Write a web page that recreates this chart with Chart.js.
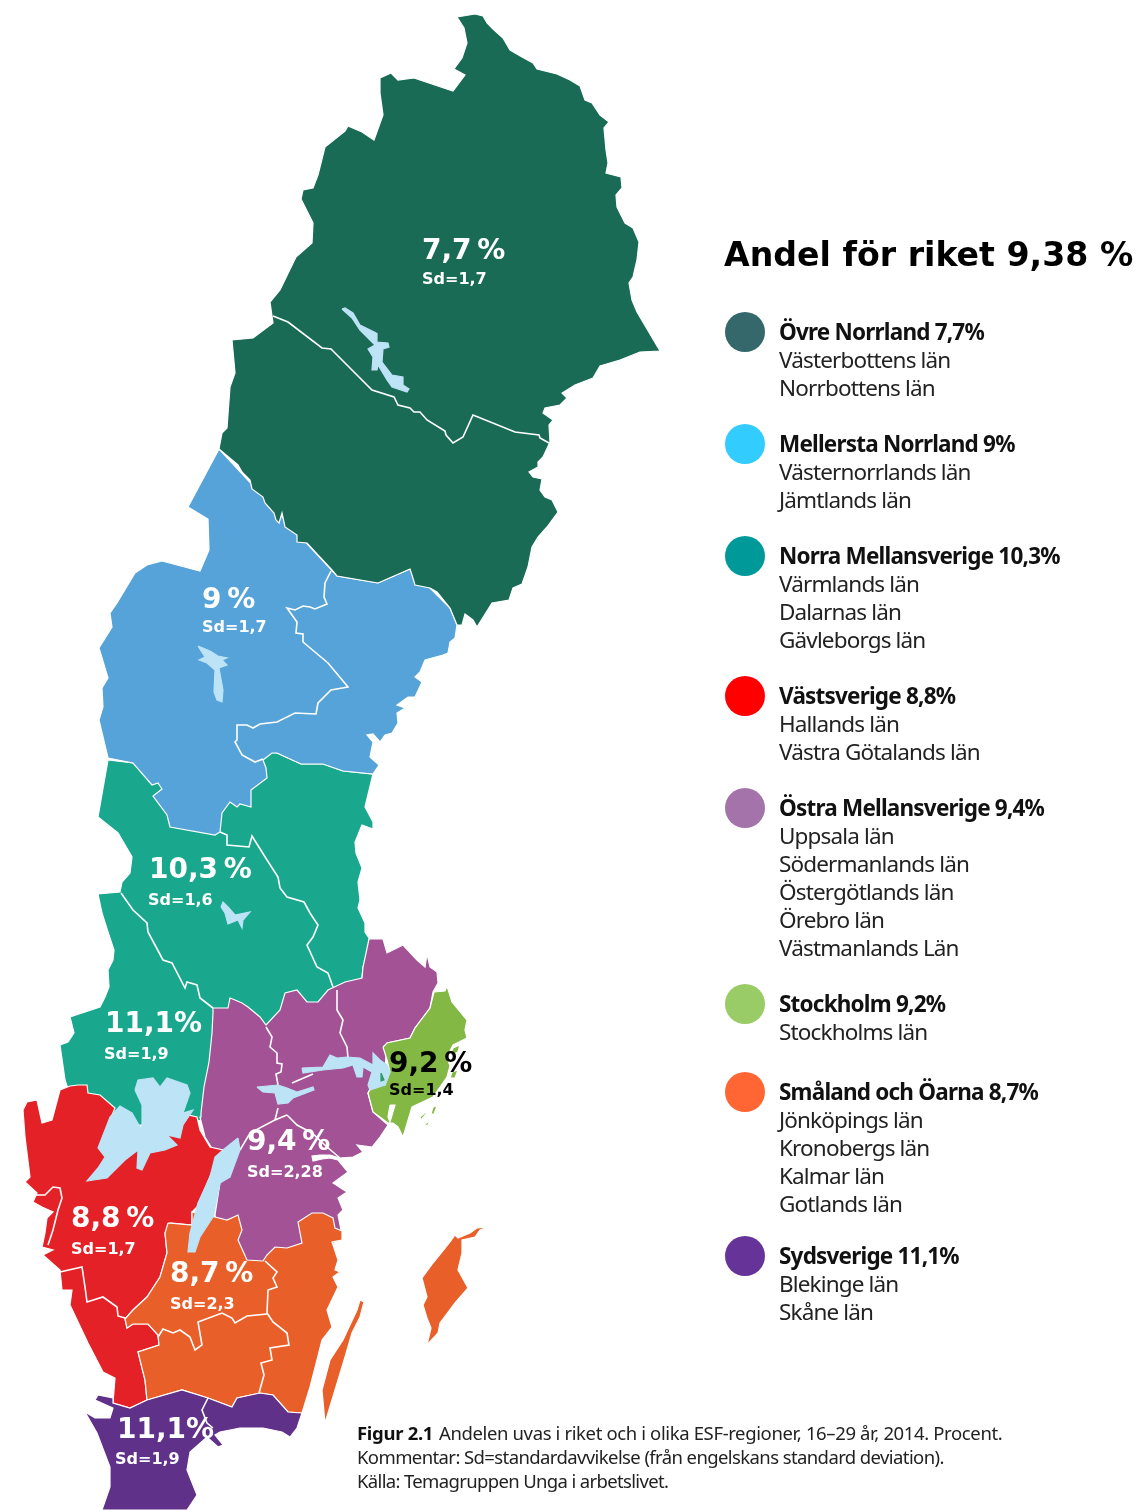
<!DOCTYPE html>
<html lang="sv">
<head>
<meta charset="utf-8">
<title>Andel för riket</title>
<script src="https://cdn.jsdelivr.net/npm/chart.js@4"></script>
<style>
html, body { margin: 0; padding: 0; background: #fff; }
canvas { display: block; }
</style>
</head>
<body>
<canvas id="karta" width="1136" height="1510"></canvas>
<script>
// ---- Siffror
const riketTitel = 'Andel för riket 9,38 %'
const regioner = ['Övre Norrland', 'Mellersta Norrland', 'Norra Mellansverige', 'Västsverige', 'Östra Mellansverige', 'Stockholm', 'Småland och Öarna', 'Sydsverige']
const andelar = ['7,7%', '9%', '10,3%', '8,8%', '9,4%', '9,2%', '8,7%', '11,1%']
const lanPerRegion = [
    ['Västerbottens län', 'Norrbottens län'],
    ['Västernorrlands län', 'Jämtlands län'],
    ['Värmlands län', 'Dalarnas län', 'Gävleborgs län'],
    ['Hallands län', 'Västra Götalands län'],
    ['Uppsala län', 'Södermanlands län', 'Östergötlands län', 'Örebro län', 'Västmanlands Län'],
    ['Stockholms län'],
    ['Jönköpings län', 'Kronobergs län', 'Kalmar län', 'Gotlands län'],
    ['Blekinge län', 'Skåne län']
]
const kartEtiketter = ['7,7 %', '9 %', '10,3 %', '11,1%', '9,2 %', '9,4 %', '8,8 %', '8,7 %', '11,1%']
const kartSd = ['Sd=1,7', 'Sd=1,7', 'Sd=1,6', 'Sd=1,9', 'Sd=1,4', 'Sd=2,28', 'Sd=1,7', 'Sd=2,3', 'Sd=1,9']
const etikettX = [422, 202, 149, 105, 389, 247, 71, 170, 117]
const etikettY = [249, 598, 868, 1022, 1062, 1140, 1217, 1272, 1428]
const sdX = [422, 202, 148, 104, 389, 247, 71, 170, 115]
const sdY = [278, 626, 899, 1053, 1089, 1171, 1248, 1303, 1458]
const figurRader = ['Andelen uvas i riket och i olika ESF-regioner, 16–29 år, 2014. Procent.', 'Kommentar: Sd=standardavvikelse (från engelskans standard deviation).', 'Källa: Temagruppen Unga i arbetslivet.']

// ---- Kartans konturer
const ovreNorrland = [457,17, 475,14, 483,16, 487,23, 493,29, 503,38, 510,50, 522,57, 533,63, 537,69, 557,74, 570,80, 580,86, 585,100, 592,103, 600,115, 609,122, 604,128, 606,150, 608,163, 606,173, 621,177, 622,188, 616,195, 617,207, 625,223, 633,228, 639,242, 637,260, 633,277, 629,283, 632,300, 637,312, 660,351, 640,352, 620,360, 600,366, 593,378, 575,385, 562,393, 567,398, 560,405, 545,408, 543,413, 553,420, 549,425, 550,442, 543,457, 538,462, 538,467, 529,472, 533,477, 542,479, 540,490, 545,497, 552,500, 558,512, 547,527, 538,537, 532,547, 528,567, 522,584, 513,588, 509,600, 492,603, 477,627, 473,620, 465,614, 462,625, 457,625, 450,608, 437,592, 430,588, 415,585, 412,575, 410,569, 378,583, 337,576, 332,570, 307,543, 297,542, 297,535, 285,527, 282,513, 279,523, 276,520, 274,513, 265,503, 263,497, 252,489, 250,480, 242,472, 238,465, 219,449, 222,433, 227,428, 230,387, 235,373, 232,340, 253,338, 273,323, 270,302, 280,290, 296,257, 312,243, 313,223, 301,199, 303,190, 313,188, 318,175, 325,147, 345,131, 348,126, 362,132, 374,140, 383,115, 380,93, 380,78, 391,73, 398,80, 414,78, 453,91, 465,75, 454,69, 462,58, 467,43, 464,28]
const mellerstaNorrland = [219,449, 188,507, 208,519, 209,550, 200,571, 162,561, 147,565, 135,573, 117,603, 110,613, 112,627, 99,648, 108,678, 102,688, 103,707, 99,720, 108,758, 133,763, 152,785, 158,783, 162,789, 153,796, 167,815, 170,827, 215,835, 220,832, 222,813, 230,802, 237,807, 240,804, 251,807, 251,790, 267,778, 266,768, 263,760, 272,753, 277,753, 301,764, 323,764, 343,771, 373,774, 379,765, 370,757, 373,742, 367,735, 373,734, 380,742, 385,735, 392,733, 398,723, 397,713, 405,708, 397,705, 408,697, 415,697, 422,682, 415,677, 420,672, 425,660, 443,655, 448,653, 450,642, 455,638, 457,625, 450,608, 430,588, 410,569, 378,583, 337,576]
const norraMellansverige = [108,760, 133,763, 200,790, 262,752, 277,753, 301,764, 323,764, 343,771, 373,774, 365,807, 373,822, 373,829, 362,825, 355,842, 356,853, 362,868, 358,882, 360,900, 358,908, 365,923, 365,932, 369,938, 368,957, 363,967, 362,978, 345,990, 290,1030, 240,1040, 205,1120, 185,1122, 150,1125, 100,1125, 70,1095, 65,1080, 60,1045, 68,1042, 74,1033, 70,1017, 100,1007, 105,997, 109,987, 108,970, 113,960, 114,950, 108,932, 102,913, 98,894, 120,892, 122,882, 130,873, 132,857, 118,833, 98,817]
const ostraMellansverige = [369,939, 383,939, 387,953, 403,945, 417,960, 425,967, 427,954, 430,967, 437,972, 438,983, 433,992, 430,1008, 415,1028, 410,1038, 387,1043, 385,1070, 372,1085, 368,1093, 373,1112, 388,1125, 380,1137, 372,1147, 357,1145, 363,1152, 353,1157, 340,1158, 330,1155, 320,1155, 312,1156, 313,1161, 322,1159, 330,1158, 338,1160, 348,1172, 333,1183, 347,1192, 338,1198, 343,1210, 338,1215, 341,1230, 330,1250, 270,1262, 225,1262, 215,1215, 222,1170, 225,1150, 213,1150, 205,1137, 200,1117, 201,1113, 204,1087, 209,1062, 212,1033, 213,1013, 213,1008, 228,1008, 230,998, 235,1000, 242,1003, 248,1007, 260,1017, 266,1025, 280,1010, 285,993, 297,990, 307,1002, 318,1002, 328,990, 345,982, 362,978, 363,967]
const vastsverige = [60,1090, 70,1086, 78,1085, 87,1085, 88,1093, 100,1095, 115,1108, 110,1120, 138,1135, 160,1120, 180,1120, 188,1115, 197,1117, 200,1130, 210,1147, 223,1150, 214,1167, 197,1207, 192,1212, 192,1225, 170,1223, 165,1233, 167,1253, 160,1277, 147,1297, 133,1310, 125,1319, 127,1328, 133,1324, 148,1324, 158,1335, 159,1345, 138,1352, 145,1380, 147,1400, 130,1408, 113,1403, 115,1378, 103,1372, 88,1343, 70,1305, 72,1290, 62,1290, 60,1270, 43,1255, 53,1250, 42,1247, 45,1233, 47,1218, 53,1212, 42,1207, 33,1202, 37,1193, 25,1182, 30,1177, 25,1137, 23,1110, 27,1102, 37,1100, 42,1123, 52,1120]
const smaland = [168,1223, 192,1225, 192,1212, 215,1217, 227,1220, 238,1215, 242,1230, 238,1240, 247,1260, 263,1261, 267,1255, 275,1247, 287,1248, 302,1243, 298,1222, 312,1213, 323,1213, 333,1218, 335,1228, 342,1231, 342,1240, 332,1242, 338,1260, 335,1270, 340,1272, 333,1277, 338,1287, 327,1310, 332,1327, 322,1340, 317,1360, 310,1387, 302,1413, 288,1412, 273,1395, 260,1393, 237,1398, 232,1407, 208,1398, 182,1390, 147,1400, 145,1380, 138,1352, 159,1345, 158,1335, 148,1324, 133,1324, 127,1328, 125,1319, 133,1310, 147,1297, 160,1277, 167,1253, 165,1233]
const gotland = [477,1228, 488,1227, 480,1230, 475,1237, 462,1240, 462,1253, 458,1270, 468,1288, 455,1303, 440,1323, 438,1333, 427,1345, 431,1328, 427,1318, 423,1305, 427,1297, 422,1278, 433,1263, 450,1242, 455,1235, 458,1238, 470,1233]
const oland = [360,1300, 364,1302, 360,1317, 352,1333, 345,1357, 335,1390, 325,1423, 322,1390, 330,1360, 343,1340, 357,1310]
const sydsverige = [302,1413, 297,1428, 290,1437, 282,1432, 263,1428, 240,1428, 220,1432, 215,1435, 223,1445, 218,1447, 207,1437, 190,1452, 187,1470, 197,1495, 187,1510, 102,1510, 110,1487, 110,1467, 97,1433, 85,1412, 95,1418, 110,1418, 113,1408, 95,1400, 98,1395, 113,1398, 113,1403, 130,1408, 147,1400, 182,1390, 208,1398, 232,1407, 237,1398, 260,1393, 273,1395, 288,1412]
const stockholm = [383,1047, 387,1043, 410,1038, 415,1028, 430,1008, 434,992, 445,991, 447,986, 452,1002, 467,1020, 465,1030, 467,1038, 453,1045, 447,1057, 450,1066, 447,1077, 433,1097, 412,1107, 403,1137, 398,1127, 393,1123, 388,1123, 373,1112, 368,1093, 373,1085, 385,1085, 390,1072, 387,1060]
const oar = [
    [453,1048, 460,1045, 458,1052, 450,1056],
    [420,1117, 428,1110, 426,1114, 421,1120],
    [433,1107, 437,1106, 434,1114, 431,1114],
    [423,1126, 430,1120, 428,1125],
    [452,1072, 458,1070, 455,1078, 450,1078]
]
const stockholmVikar = [390,1105, 395,1105, 390,1122, 388,1117]

// ---- Länsgränser
const gransLinjer = [
    [273,316, 288,322, 322,348, 331,349, 372,390, 394,397, 398,405, 410,408, 414,412, 420,412, 427,420, 445,431, 446,435, 453,443, 463,437, 473,415, 515,432, 539,435, 540,438, 549,443],
    [331,571, 325,583, 324,597, 327,604, 315,609, 310,607, 303,606, 295,610, 287,608, 297,622, 296,633, 303,634, 303,642, 328,663, 348,687, 331,690, 318,703, 316,714, 295,713, 277,722, 260,724, 253,728, 247,725, 237,725, 237,740, 235,742, 242,755, 255,762, 263,759],
    [220,832, 227,835, 227,845, 249,847, 252,836, 267,860, 278,877, 280,888, 287,897, 304,902, 310,913, 318,925, 313,937, 307,945, 317,967, 328,973, 333,987],
    [121,893, 133,910, 147,923, 148,932, 163,960, 172,963, 185,988, 187,982, 197,985, 200,998, 213,1008],
    [266,1027, 272,1037, 270,1047, 277,1053, 277,1063, 282,1064, 281,1072, 276,1074, 278,1085],
    [337,990, 337,1010, 343,1020, 340,1033, 347,1047, 348,1058],
    [313,1074, 292,1083],
    [278,1108, 275,1120, 250,1133, 240,1150],
    [287,1115, 297,1125, 312,1133, 327,1147, 340,1158],
    [275,1120, 287,1115],
    [35,1195, 45,1195, 53,1187, 60,1188, 62,1198, 58,1210, 53,1230, 48,1245],
    [60,1272, 82,1267, 85,1287, 87,1302, 103,1297, 117,1307, 118,1316, 125,1318],
    [158,1337, 163,1329, 173,1333, 180,1330, 190,1337, 195,1350, 202,1345, 198,1322, 222,1313, 232,1318, 235,1323, 247,1316, 267,1314],
    [265,1261, 277,1272, 273,1278, 277,1287, 268,1290, 267,1313, 273,1322, 287,1333, 289,1345, 270,1348, 272,1360, 261,1363, 264,1375, 259,1393],
    [208,1398, 202,1410, 207,1423, 213,1428]
]

// ---- Sjöar
const sjoar = [
    [342,309, 345,308, 353,313, 360,325, 376,333, 377,342, 388,343, 389,347, 383,349, 382,362, 392,375, 403,377, 403,385, 409,389, 407,392, 392,387, 387,380, 378,365, 377,370, 372,370, 373,357, 368,349, 375,345, 370,340, 360,330, 352,318],
    [198,646, 210,651, 218,656, 227,658, 222,660, 227,665, 219,668, 223,690, 222,702, 217,700, 214,692, 215,670, 207,663, 199,660, 205,657],
    [221,907, 223,902, 228,907, 235,915, 250,912, 243,920, 242,928, 238,920, 228,924, 225,913],
    [302,1068, 323,1067, 330,1055, 337,1058, 347,1057, 360,1058, 373,1065, 373,1053, 380,1060, 387,1065, 390,1072, 385,1085, 370,1090, 368,1085, 372,1072, 363,1067, 362,1077, 357,1077, 353,1065, 343,1068, 323,1070, 303,1073],
    [257,1087, 278,1085, 287,1088, 297,1092, 313,1087, 314,1090, 293,1098, 288,1103, 278,1104, 275,1093, 263,1092],
    [238,1138, 240,1150, 230,1177, 220,1183, 213,1217, 200,1237, 195,1252, 188,1252, 190,1233, 198,1203, 210,1177, 215,1157, 223,1150],
    [135,1090, 138,1080, 153,1078, 160,1087, 167,1078, 187,1085, 190,1093, 183,1113, 193,1110, 183,1125, 180,1138, 167,1135, 177,1145, 165,1150, 150,1153, 142,1170, 137,1168, 138,1150, 125,1160, 107,1178, 87,1181, 98,1168, 105,1157, 98,1148, 110,1117, 120,1106, 132,1113, 140,1127, 142,1127, 142,1105]
]
const sjoOar = [
    [381,1073, 384,1080, 381,1081]
]

// ---- Teckenförklaringens prickar
const prickX = [745, 745, 745, 745, 745, 745, 745, 745]
const prickY = [332, 444, 556, 696, 808, 1004, 1092, 1256]
const prickFarger = ['#35686B', '#33CCFF', '#009999', '#FF0000', '#A473AA', '#99CC66', '#FF6633', '#663399']

const tillPunkter = (platt, sluten) => {
    const punkter = []
    for (let i = 0; i < platt.length; i += 2) {
        punkter.push({ x: platt[i], y: platt[i + 1] })
    }
    if (sluten) punkter.push({ x: platt[0], y: platt[1] })
    return punkter
}

const yta = (platt, farg, kant) => ({
    data: tillPunkter(platt, true),
    showLine: true,
    fill: 'shape',
    backgroundColor: farg,
    borderColor: kant || '#ffffff',
    borderWidth: 1.2,
    pointRadius: 0,
    tension: 0
})

const linje = (platt) => ({
    data: tillPunkter(platt, false),
    showLine: true,
    fill: false,
    borderColor: '#ffffff',
    borderWidth: 1.6,
    pointRadius: 0,
    tension: 0
})

// Ritordning: forsta ligger underst
const lager = [
    yta(norraMellansverige, '#19A88D'),
    yta(mellerstaNorrland, '#55A3D8'),
    yta(ovreNorrland, '#1A6B55'),
    yta(ostraMellansverige, '#A25295'),
    yta(vastsverige, '#E42126'),
    yta(smaland, '#E95F29'),
    yta(gotland, '#E95F29'),
    yta(oland, '#E95F29'),
    yta(sydsverige, '#5F3188'),
    yta(stockholm, '#84B844'),
    yta(stockholmVikar, '#ffffff'),
    ...oar.map(o => yta(o, '#84B844')),
    ...gransLinjer.map(linje),
    ...sjoar.map(s => yta(s, '#BDE3F6', '#BDE3F6')),
    ...sjoOar.map(o => yta(o, '#2E9C6A', '#2E9C6A')),
    {
        data: prickX.map((x, i) => ({ x: x, y: prickY[i] })),
        showLine: false,
        pointRadius: 20,
        pointHoverRadius: 20,
        pointBackgroundColor: prickFarger,
        pointBorderWidth: 0
    }
]
lager.forEach((d, i) => { d.order = lager.length - i })

const texter = {
    id: 'texter',
    afterDatasetsDraw(chart) {
        const ctx = chart.ctx
        const sx = chart.scales.x
        const sy = chart.scales.y
        const skriv = (text, x, y, font, farg, extra) => {
            ctx.font = font
            ctx.fillStyle = farg
            ctx.wordSpacing = (extra && extra.ord) || '0px'
            ctx.letterSpacing = (extra && extra.bokstav) || '0px'
            ctx.fillText(text, sx.getPixelForValue(x), sy.getPixelForValue(y))
        }
        ctx.save()
        ctx.textBaseline = 'middle'
        ctx.textAlign = 'left'

        skriv(riketTitel, 724, 257, 'bold 33.2px "DejaVu Sans"', '#000000')

        kartEtiketter.forEach((t, i) => {
            const farg = t === '9,2 %' ? '#000000' : '#ffffff'
            skriv(t, etikettX[i], etikettY[i] + 3, 'bold 28px "DejaVu Sans"', farg, { ord: '-4px' })
            skriv(kartSd[i], sdX[i], sdY[i] + 2, 'bold 16px "DejaVu Sans"', farg)
        })

        const tunn = { bokstav: '-0.85px' }
        const tunnFet = { bokstav: '-0.8px' }
        regioner.forEach((r, i) => {
            skriv(r + ' ' + andelar[i], 779, prickY[i] + 2, 'bold 22.5px "Noto Sans"', '#111111', tunnFet)
            lanPerRegion[i].forEach((l, j) => {
                skriv(l, 779, prickY[i] + 30 + j * 28, '22.5px "Noto Sans"', '#222222', tunn)
            })
        })

        skriv('Figur 2.1', 357, 1435, 'bold 18.5px "Noto Sans"', '#111111', { bokstav: '-0.3px' })
        skriv(figurRader[0], 439, 1435, '18.5px "Noto Sans"', '#222222', { bokstav: '-0.37px' })
        skriv(figurRader[1], 357, 1459, '18.5px "Noto Sans"', '#222222', { bokstav: '-0.6px' })
        skriv(figurRader[2], 357, 1483, '18.5px "Noto Sans"', '#222222', { bokstav: '-0.65px' })
        ctx.restore()
    }
}

new Chart(document.querySelector('#karta').getContext('2d'), {
    type: 'scatter',
    data: { datasets: lager },
    options: {
        responsive: false,
        animation: false,
        layout: { padding: 0, autoPadding: false },
        plugins: { legend: { display: false }, tooltip: { enabled: false } },
        scales: {
            x: { type: 'linear', min: 0, max: 1136, display: false },
            y: { type: 'linear', min: 0, max: 1510, reverse: true, display: false }
        }
    },
    plugins: [texter]
})
</script>
</body>
</html>
